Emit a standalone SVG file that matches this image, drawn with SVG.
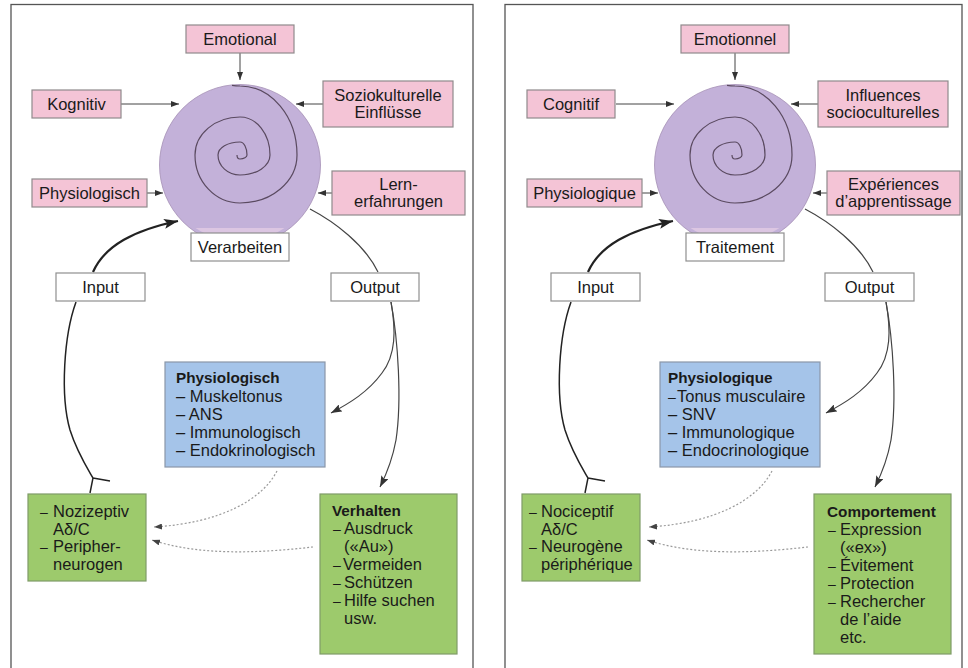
<svg xmlns="http://www.w3.org/2000/svg" width="968" height="668" viewBox="0 0 968 668">
<defs>
<style>
text{font-family:"Liberation Sans",Arial,sans-serif;font-size:16.5px;fill:#1a1a1a}
.c{text-anchor:middle}
.b{font-weight:bold;font-size:15.3px}
.frame{fill:#fff;stroke:#555;stroke-width:1.3}
.pink{fill:#f4c4d6;stroke:#8f8a8c;stroke-width:1.2}
.white{fill:#fff;stroke:#8f8f8f;stroke-width:1.2}
.blue{fill:#a5c4e9;stroke:#8a97a8;stroke-width:1.2}
.green{fill:#9dca6c;stroke:#7f9b68;stroke-width:1.2}
.thin{fill:none;stroke:#444;stroke-width:1;marker-end:url(#ah)}
.out{fill:none;stroke:#444;stroke-width:1.2}
.outa{fill:none;stroke:#444;stroke-width:1.2;marker-end:url(#ah2)}
.inp{fill:none;stroke:#222;stroke-width:2.2;marker-end:url(#ah3)}
.nerve{fill:none;stroke:#222;stroke-width:1.5}
.dot{fill:none;stroke:#9a9a9a;stroke-width:1.2;stroke-dasharray:2 2;marker-end:url(#ah4)}
.spiral{fill:none;stroke:#5a4a60;stroke-width:1.2}
.d{font-size:14px}
</style>
<marker id="ah" markerUnits="userSpaceOnUse" markerWidth="8" markerHeight="6" refX="8" refY="3" orient="auto"><path d="M0,0L8,3L0,6z" fill="#333"/></marker>
<marker id="ah2" markerUnits="userSpaceOnUse" markerWidth="11" markerHeight="8" refX="11" refY="4" orient="auto"><path d="M0,0L11,4L0,8L2,4z" fill="#333"/></marker>
<marker id="ah3" markerUnits="userSpaceOnUse" markerWidth="14" markerHeight="10" refX="14" refY="5" orient="auto"><path d="M0,0L14,5L0,10L3,5z" fill="#222"/></marker>
<marker id="ah4" markerUnits="userSpaceOnUse" markerWidth="8" markerHeight="6" refX="8" refY="3" orient="auto"><path d="M0,0L8,3L0,6z" fill="#444"/></marker>
<g id="disc">
<circle cx="240" cy="165" r="80.5" fill="#c3b1d9" stroke="#a48fb5" stroke-width="0.8"/>
<path d="M195.5,228 L284.5,228 A80.5,80.5 0 0 1 195.5,228z" fill="#dcc6e2"/>
<path class="spiral" d="M232,85.3 Q236,85.8 240,86 A57,69 0 0 1 297,155 A57,48 0 0 1 240,203 A45,48 0 0 1 195,155 A45,38 0 0 1 240,117 A30,38 0 0 1 270,155 A30,20 0 0 1 240,175 A22,20 0 0 1 218,155 A22,13 0 0 1 240,142 A7,13 0 0 1 247,155 A7,4 0 0 1 240,159 A3,4 0 0 1 237,155"/>
</g>
</defs>

<rect class="frame" x="11" y="4.5" width="462" height="680"/>
<rect class="frame" x="505" y="4.5" width="457" height="680"/>

<!-- LEFT PANEL (German) -->
<g id="left">
<g id="connectors-de">
<path class="thin" d="M240,53 L240,80"/>
<path class="thin" d="M121,104 L179,104"/>
<path class="thin" d="M323,104 L296,104"/>
<path class="thin" d="M147,193 L163,193"/>
<path class="thin" d="M332,193 L318,193"/>
<path class="out" d="M310,209 C335,222 365,245 378,272"/>
<path class="outa" d="M391,302 C396,330 396,355 382,373 C368,392 350,403 331,413"/>
<path class="outa" d="M391,302 C398,340 402,400 396,440 C392,462 386,475 380,487"/>
<path class="inp" d="M93,272 C105,245 135,230 178,221"/>
<path class="nerve" d="M76,302 C64,335 60,395 70,430 C77,452 86,466 93,478 L90,493 M93,478 L110,481"/>
<path class="dot" d="M277,471 C262,500 220,523 154,527"/>
<path class="dot" d="M313,547 C260,553 200,556 152,540"/>
</g>
<g id="processing-de"><use href="#disc"/></g>
<g id="emotional"><rect class="pink" x="186" y="25" width="108" height="28"/><text class="c" x="240" y="45">Emotional</text></g>
<g id="kognitiv"><rect class="pink" x="32" y="90" width="89" height="28"/><text class="c" x="76.5" y="110">Kognitiv</text></g>
<g id="soziokulturelle"><rect class="pink" x="323" y="81" width="130" height="46"/><text class="c" x="388" y="100.5">Soziokulturelle<tspan x="388" y="118">Einflüsse</tspan></text></g>
<g id="physiologisch-in"><rect class="pink" x="32" y="179" width="115" height="28"/><text class="c" x="89.5" y="199">Physiologisch</text></g>
<g id="lernerfahrungen"><rect class="pink" x="332" y="171" width="133" height="44"/><text class="c" x="398.5" y="189.5">Lern-<tspan x="398.5" y="207">erfahrungen</tspan></text></g>
<g id="verarbeiten"><rect class="white" x="191" y="233" width="98" height="28"/><text class="c" x="240" y="253">Verarbeiten</text></g>
<g id="input-de"><rect class="white" x="56" y="273" width="89" height="28"/><text class="c" x="100.5" y="293">Input</text></g>
<g id="output-de"><rect class="white" x="331" y="273" width="88" height="28"/><text class="c" x="375" y="293">Output</text></g>
<g id="physiologisch-out"><rect class="blue" x="165" y="362" width="160" height="105"/>
<text class="b" x="176" y="383">Physiologisch</text>
<text x="176" y="401.5">– Muskeltonus</text>
<text x="176" y="419.5">– ANS</text>
<text x="176" y="437.5">– Immunologisch</text>
<text x="176" y="455.5">– Endokrinologisch</text></g>
<g id="nozizeptiv"><rect class="green" x="28" y="494" width="118" height="87"/>
<text x="40" y="517"><tspan class="d">–</tspan><tspan x="53">Nozizeptiv</tspan></text>
<text x="53" y="534.5">Aδ/C</text>
<text x="40" y="552"><tspan class="d">–</tspan><tspan x="53">Peripher-</tspan></text>
<text x="53" y="569.5">neurogen</text></g>
<g id="verhalten"><rect class="green" x="320" y="494" width="137" height="160"/>
<text class="b" x="332" y="516">Verhalten</text>
<text x="333" y="534"><tspan class="d">–</tspan><tspan x="344">Ausdruck</tspan></text>
<text x="344" y="552">(«Au»)</text>
<text x="333" y="570"><tspan class="d">–</tspan><tspan x="343">Vermeiden</tspan></text>
<text x="333" y="588"><tspan class="d">–</tspan><tspan x="344">Schützen</tspan></text>
<text x="333" y="606"><tspan class="d">–</tspan><tspan x="344">Hilfe suchen</tspan></text>
<text x="344" y="624">usw.</text></g>
</g>

<!-- RIGHT PANEL (French) -->
<g id="right" transform="translate(495,0)">
<g id="connectors-fr">
<path class="thin" d="M240,53 L240,80"/>
<path class="thin" d="M121,104 L179,104"/>
<path class="thin" d="M323,104 L296,104"/>
<path class="thin" d="M147,193 L163,193"/>
<path class="thin" d="M332,193 L318,193"/>
<path class="out" d="M310,209 C335,222 365,245 378,272"/>
<path class="outa" d="M391,302 C396,330 396,355 382,373 C368,392 350,403 331,413"/>
<path class="outa" d="M391,302 C398,340 402,400 396,440 C392,462 386,475 380,487"/>
<path class="inp" d="M93,272 C105,245 135,230 178,221"/>
<path class="nerve" d="M76,302 C64,335 60,395 70,430 C77,452 86,466 93,478 L90,493 M93,478 L110,481"/>
<path class="dot" d="M277,471 C262,500 220,523 154,527"/>
<path class="dot" d="M313,547 C260,553 200,556 152,540"/>
</g>
<g id="processing-fr"><use href="#disc"/></g>
<g id="emotionnel"><rect class="pink" x="186" y="25" width="108" height="28"/><text class="c" x="240" y="45">Emotionnel</text></g>
<g id="cognitif"><rect class="pink" x="32" y="90" width="88" height="28"/><text class="c" x="76" y="110">Cognitif</text></g>
<g id="influences"><rect class="pink" x="323" y="81" width="130" height="46"/><text class="c" x="388" y="100.5">Influences<tspan x="388" y="118">socioculturelles</tspan></text></g>
<g id="physiologique-in"><rect class="pink" x="32" y="179" width="115" height="28"/><text class="c" x="89.5" y="199">Physiologique</text></g>
<g id="experiences"><rect class="pink" x="332" y="171" width="133" height="44"/><text class="c" x="398.5" y="189.5">Expériences<tspan x="398.5" y="207">d’apprentissage</tspan></text></g>
<g id="traitement"><rect class="white" x="191" y="233" width="98" height="28"/><text class="c" x="240" y="253">Traitement</text></g>
<g id="input-fr"><rect class="white" x="56" y="273" width="89" height="28"/><text class="c" x="100.5" y="293">Input</text></g>
<g id="output-fr"><rect class="white" x="330" y="273" width="89" height="28"/><text class="c" x="374.5" y="293">Output</text></g>
<g id="physiologique-out"><rect class="blue" x="165" y="362" width="160" height="105"/>
<text class="b" x="173" y="383">Physiologique</text>
<text x="173" y="401.5"><tspan class="d">–</tspan><tspan x="182">Tonus musculaire</tspan></text>
<text x="173" y="419.5">– SNV</text>
<text x="173" y="437.5">– Immunologique</text>
<text x="173" y="455.5">– Endocrinologique</text></g>
<g id="nociceptif"><rect class="green" x="27" y="494" width="118" height="87"/>
<text x="34" y="517"><tspan class="d">–</tspan><tspan x="46">Nociceptif</tspan></text>
<text x="46" y="534.5">Aδ/C</text>
<text x="34" y="552"><tspan class="d">–</tspan><tspan x="46">Neurogène</tspan></text>
<text x="46" y="569.5">périphérique</text></g>
<g id="comportement"><rect class="green" x="319" y="494" width="137" height="160"/>
<text class="b" x="332" y="517">Comportement</text>
<text x="333" y="535"><tspan class="d">–</tspan><tspan x="345">Expression</tspan></text>
<text x="345" y="552.5">(«ex»)</text>
<text x="333" y="570.5"><tspan class="d">–</tspan><tspan x="345">Évitement</tspan></text>
<text x="333" y="588.5"><tspan class="d">–</tspan><tspan x="345">Protection</tspan></text>
<text x="333" y="606.5"><tspan class="d">–</tspan><tspan x="345">Rechercher</tspan></text>
<text x="345" y="624.5">de l’aide</text>
<text x="345" y="642.5">etc.</text></g>
</g>
</svg>
